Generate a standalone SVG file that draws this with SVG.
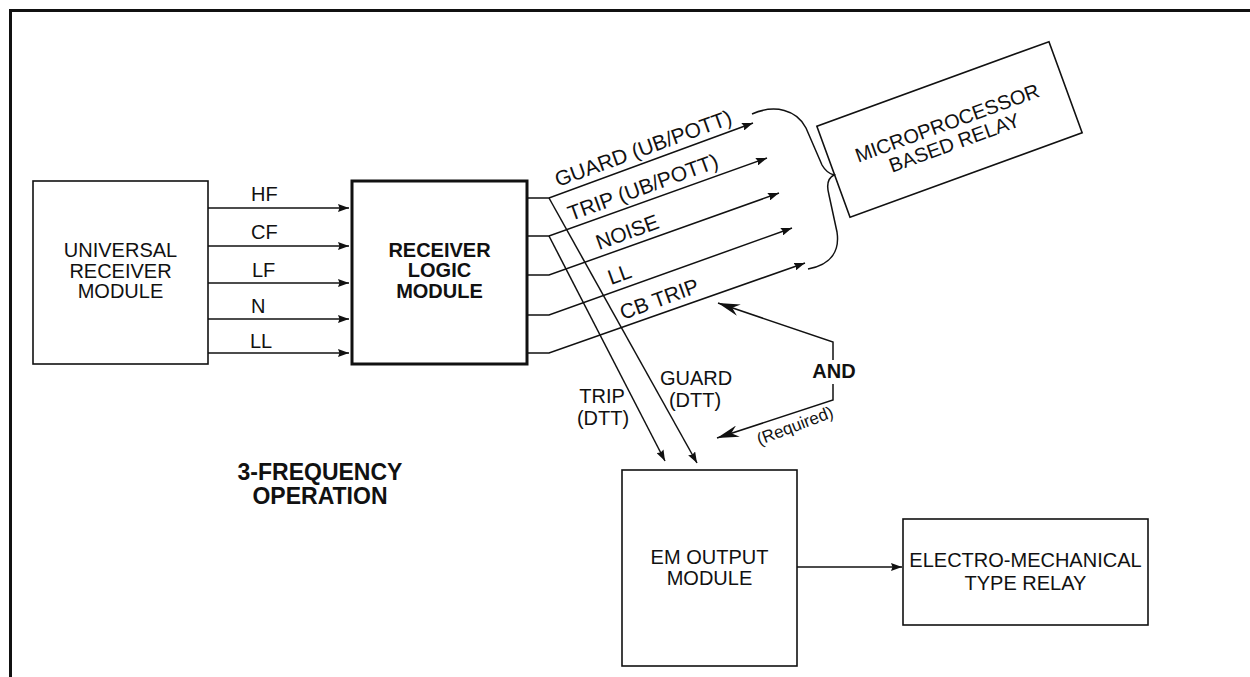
<svg xmlns="http://www.w3.org/2000/svg" width="1250" height="677" viewBox="0 0 1250 677">
<defs>
<style>
text{font-family:"Liberation Sans",Arial,sans-serif;font-size:20px;fill:#111;}
.c{text-anchor:middle;}
.b{font-weight:bold;}
.box{fill:none;stroke:#111;stroke-width:1.6;}
.thick{fill:none;stroke:#111;stroke-width:3;}
.ln{fill:none;stroke:#111;stroke-width:1.5;}
</style>
<marker id="arr" viewBox="0 0 11 8" refX="11" refY="4" markerWidth="11" markerHeight="8" markerUnits="userSpaceOnUse" orient="auto">
<path d="M0,0 L11,4 L0,8 L1.5,4 z" fill="#111"/>
</marker>
<marker id="barb" viewBox="0 0 22 12" refX="22" refY="6" markerWidth="22" markerHeight="12" markerUnits="userSpaceOnUse" orient="auto">
<path d="M0,0 L22,6 L0,12 L7,6 z" fill="#111"/>
</marker>
</defs>
<rect width="1250" height="677" fill="#fff"/>
<path d="M10.5,677 V10.5 H1250" fill="none" stroke="#111" stroke-width="3"/>

<g id="universal-receiver">
<rect class="box" x="33" y="181" width="175" height="183"/>
<text class="c" x="120.5" y="257">UNIVERSAL</text>
<text class="c" x="120.5" y="278">RECEIVER</text>
<text class="c" x="120.5" y="298">MODULE</text>
</g>

<g id="receiver-logic">
<rect class="thick" x="352" y="181" width="175" height="183"/>
<text class="c b" x="439.5" y="257">RECEIVER</text>
<text class="c b" x="439.5" y="277">LOGIC</text>
<text class="c b" x="439.5" y="298">MODULE</text>
</g>

<g id="microprocessor-relay" transform="translate(949.5,129.5) rotate(-20)">
<rect class="box" x="-123.5" y="-48.5" width="247" height="97"/>
<text class="c" x="0" y="0">MICROPROCESSOR</text>
<text class="c" x="0" y="21">BASED RELAY</text>
</g>

<g id="em-output">
<rect class="box" x="622" y="470" width="175" height="196"/>
<text class="c" x="709.5" y="564">EM OUTPUT</text>
<text class="c" x="709.5" y="585">MODULE</text>
</g>

<g id="em-relay">
<rect class="box" x="903" y="519" width="245" height="106"/>
<text class="c" x="1025.5" y="567">ELECTRO-MECHANICAL</text>
<text class="c" x="1025.5" y="590">TYPE RELAY</text>
</g>

<g id="title">
<text class="c b" x="320" y="480" style="font-size:23px">3-FREQUENCY</text>
<text class="c b" x="320" y="504" style="font-size:23px">OPERATION</text>
</g>

<g id="connectors">
<line class="ln" x1="208" y1="208" x2="349" y2="208" marker-end="url(#arr)"/>
<line class="ln" x1="208" y1="246" x2="349" y2="246" marker-end="url(#arr)"/>
<line class="ln" x1="208" y1="283" x2="349" y2="283" marker-end="url(#arr)"/>
<line class="ln" x1="208" y1="319" x2="349" y2="319" marker-end="url(#arr)"/>
<line class="ln" x1="208" y1="353" x2="349" y2="353" marker-end="url(#arr)"/>
<text x="251" y="201">HF</text>
<text x="251" y="239">CF</text>
<text x="252" y="277">LF</text>
<text x="251" y="313">N</text>
<text x="250" y="348">LL</text>

<polyline class="ln" points="527,198 549,198 753,123" marker-end="url(#arr)"/>
<polyline class="ln" points="527,236 549,236 767,158" marker-end="url(#arr)"/>
<polyline class="ln" points="527,275 549,275 779,193" marker-end="url(#arr)"/>
<polyline class="ln" points="527,315 549,315 792,228" marker-end="url(#arr)"/>
<polyline class="ln" points="527,353 549,353 805,263" marker-end="url(#arr)"/>
<text transform="translate(558,187) rotate(-20)" style="font-size:21px">GUARD (UB/POTT)</text>
<text transform="translate(571,221) rotate(-20)" style="font-size:21px">TRIP (UB/POTT)</text>
<text transform="translate(599,250) rotate(-20)" style="font-size:21px">NOISE</text>
<text transform="translate(611,285) rotate(-20)" style="font-size:21px">LL</text>
<text transform="translate(623,320) rotate(-20)" style="font-size:21px">CB TRIP</text>

<path class="ln" d="M752,114 C775,104 797,110 806,128 L822,165 C826,172 830,174 834,175 C828,178 826,184 829,195 L837,232 C840,252 830,265 808,269"/>

<line class="ln" x1="549" y1="198" x2="697" y2="463" marker-end="url(#arr)"/>
<line class="ln" x1="549" y1="236" x2="665" y2="461" marker-end="url(#arr)"/>
<text class="c" x="602" y="403">TRIP</text>
<text class="c" x="603" y="425">(DTT)</text>
<text class="c" x="696" y="385">GUARD</text>
<text class="c" x="695" y="407">(DTT)</text>

<path class="ln" d="M833,360 V342 L718,303" marker-end="url(#barb)"/>
<path class="ln" d="M833,384 V400 L717,438" marker-end="url(#barb)"/>
<text class="c b" x="834" y="378">AND</text>
<text class="c" transform="translate(797,431) rotate(-21)" style="font-size:17px">(Required)</text>

<line class="ln" x1="797" y1="567" x2="902" y2="567" marker-end="url(#arr)"/>
</g>
</svg>
